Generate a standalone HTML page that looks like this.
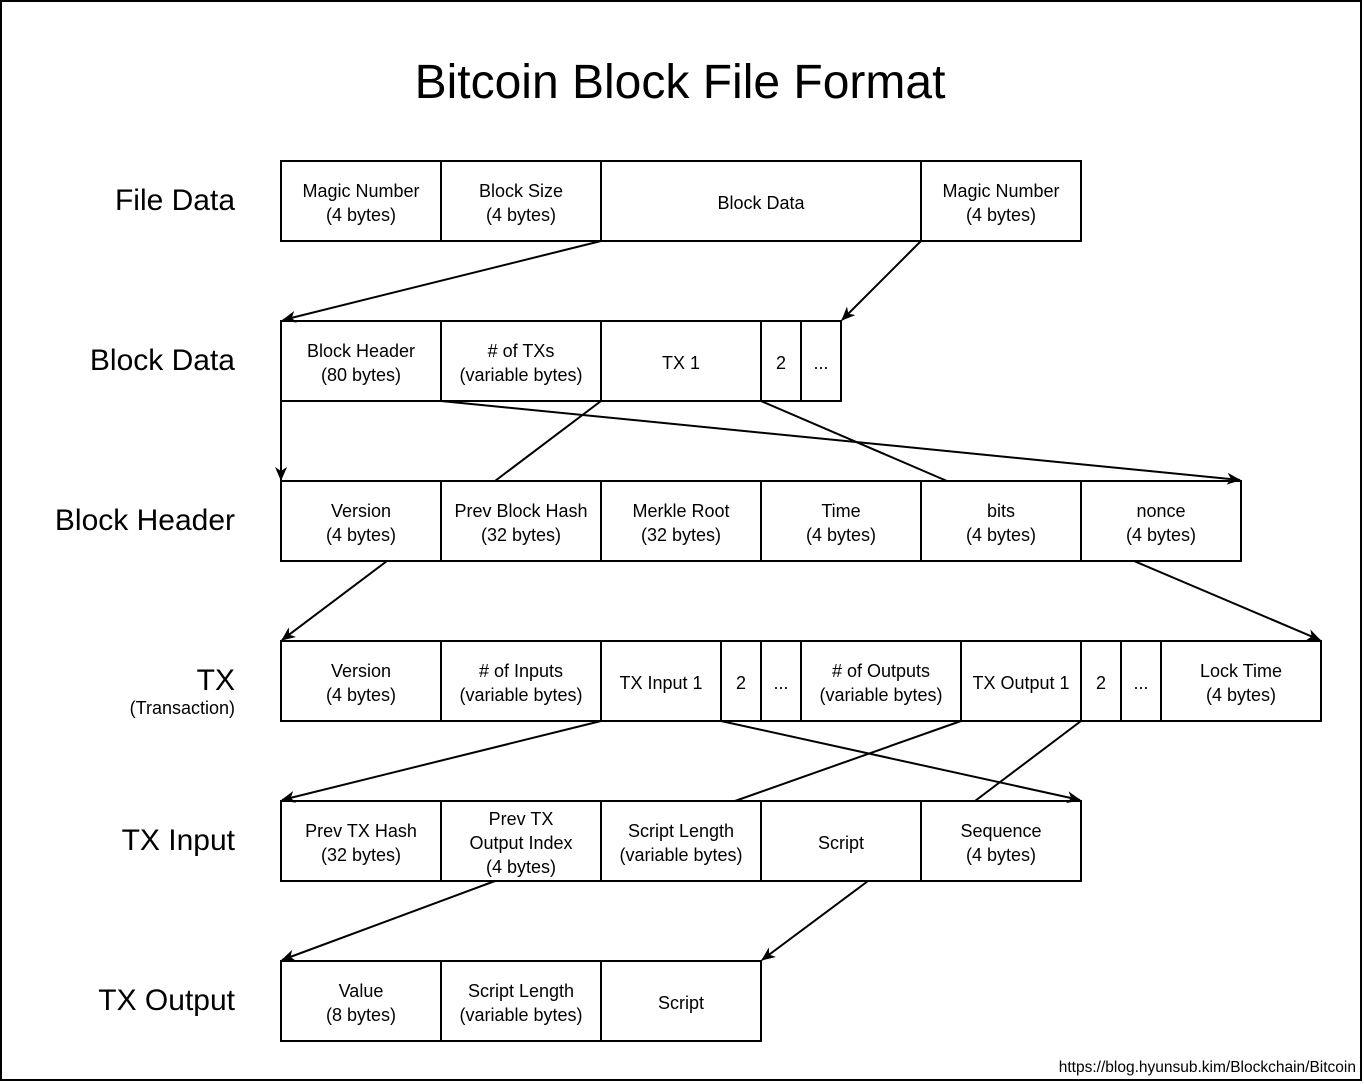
<!DOCTYPE html>
<html><head><style>body{margin:0;background:#fff}svg{display:block}</style></head><body>
<svg width="1364" height="1084" xmlns="http://www.w3.org/2000/svg" font-family="Liberation Sans, Arial, sans-serif">
<defs><marker id="a" viewBox="0 0 14 12" markerWidth="14" markerHeight="12" refX="13" refY="6" orient="auto" markerUnits="userSpaceOnUse"><path d="M0,0 L14,6 L0,12 L4,6 z" fill="#000"/></marker></defs>
<rect x="1" y="1" width="1360" height="1079" fill="#fff" stroke="#000" stroke-width="2"/>
<text x="680" y="98" font-size="48" text-anchor="middle">Bitcoin Block File Format</text>
<g font-size="30" text-anchor="end">
<text x="235" y="210">File Data</text>
<text x="235" y="370">Block Data</text>
<text x="235" y="530">Block Header</text>
<text x="235" y="690">TX</text>
<text x="235" y="714" font-size="18">(Transaction)</text>
<text x="235" y="850">TX Input</text>
<text x="235" y="1010">TX Output</text>
</g>
<g fill="#fff" stroke="#000" stroke-width="2">
<rect x="281" y="161" width="800" height="80"/>
<rect x="281" y="321" width="560" height="80"/>
<rect x="281" y="481" width="960" height="80"/>
<rect x="281" y="641" width="1040" height="80"/>
<rect x="281" y="801" width="800" height="80"/>
<rect x="281" y="961" width="480" height="80"/>
</g>
<g stroke="#000" stroke-width="2">
<path d="M441,161V241M601,161V241M921,161V241"/>
<path d="M441,321V401M601,321V401M761,321V401M801,321V401"/>
<path d="M441,481V561M601,481V561M761,481V561M921,481V561M1081,481V561"/>
<path d="M441,641V721M601,641V721M721,641V721M761,641V721M801,641V721M961,641V721M1081,641V721M1121,641V721M1161,641V721"/>
<path d="M441,801V881M601,801V881M761,801V881M921,801V881"/>
<path d="M441,961V1041M601,961V1041"/>
</g>
<g stroke="#000" stroke-width="2" fill="none">
<line x1="601" y1="241" x2="283" y2="320" marker-end="url(#a)"/>
<line x1="921" y1="241" x2="842" y2="320" marker-end="url(#a)"/>
<line x1="281" y1="401" x2="281" y2="480" marker-end="url(#a)"/>
<line x1="441" y1="401" x2="1240" y2="480" marker-end="url(#a)"/>
<line x1="601" y1="401" x2="495" y2="481"/>
<line x1="761" y1="401" x2="947" y2="481"/>
<line x1="387" y1="561" x2="282" y2="640" marker-end="url(#a)"/>
<line x1="1134" y1="561" x2="1320" y2="640" marker-end="url(#a)"/>
<line x1="601" y1="721" x2="282" y2="800" marker-end="url(#a)"/>
<line x1="721" y1="721" x2="1080" y2="800" marker-end="url(#a)"/>
<line x1="961" y1="721" x2="735" y2="801"/>
<line x1="1081" y1="721" x2="975" y2="801"/>
<line x1="495" y1="881" x2="282" y2="960" marker-end="url(#a)"/>
<line x1="868" y1="881" x2="762" y2="960" marker-end="url(#a)"/>
</g>
<g font-size="18" text-anchor="middle">
<text x="361" y="197">Magic Number</text><text x="361" y="221">(4 bytes)</text>
<text x="521" y="197">Block Size</text><text x="521" y="221">(4 bytes)</text>
<text x="761" y="209">Block Data</text>
<text x="1001" y="197">Magic Number</text><text x="1001" y="221">(4 bytes)</text>

<text x="361" y="357">Block Header</text><text x="361" y="381">(80 bytes)</text>
<text x="521" y="357"># of TXs</text><text x="521" y="381">(variable bytes)</text>
<text x="681" y="369">TX 1</text>
<text x="781" y="369">2</text>
<text x="821" y="369">...</text>

<text x="361" y="517">Version</text><text x="361" y="541">(4 bytes)</text>
<text x="521" y="517">Prev Block Hash</text><text x="521" y="541">(32 bytes)</text>
<text x="681" y="517">Merkle Root</text><text x="681" y="541">(32 bytes)</text>
<text x="841" y="517">Time</text><text x="841" y="541">(4 bytes)</text>
<text x="1001" y="517">bits</text><text x="1001" y="541">(4 bytes)</text>
<text x="1161" y="517">nonce</text><text x="1161" y="541">(4 bytes)</text>

<text x="361" y="677">Version</text><text x="361" y="701">(4 bytes)</text>
<text x="521" y="677"># of Inputs</text><text x="521" y="701">(variable bytes)</text>
<text x="661" y="689">TX Input 1</text>
<text x="741" y="689">2</text>
<text x="781" y="689">...</text>
<text x="881" y="677"># of Outputs</text><text x="881" y="701">(variable bytes)</text>
<text x="1021" y="689">TX Output 1</text>
<text x="1101" y="689">2</text>
<text x="1141" y="689">...</text>
<text x="1241" y="677">Lock Time</text><text x="1241" y="701">(4 bytes)</text>

<text x="361" y="837">Prev TX Hash</text><text x="361" y="861">(32 bytes)</text>
<text x="521" y="825">Prev TX</text><text x="521" y="849">Output Index</text><text x="521" y="873">(4 bytes)</text>
<text x="681" y="837">Script Length</text><text x="681" y="861">(variable bytes)</text>
<text x="841" y="849">Script</text>
<text x="1001" y="837">Sequence</text><text x="1001" y="861">(4 bytes)</text>

<text x="361" y="997">Value</text><text x="361" y="1021">(8 bytes)</text>
<text x="521" y="997">Script Length</text><text x="521" y="1021">(variable bytes)</text>
<text x="681" y="1009">Script</text>
</g>
<text x="1356" y="1072" font-size="15.5" text-anchor="end">https://blog.hyunsub.kim/Blockchain/Bitcoin</text>
</svg>
</body></html>
